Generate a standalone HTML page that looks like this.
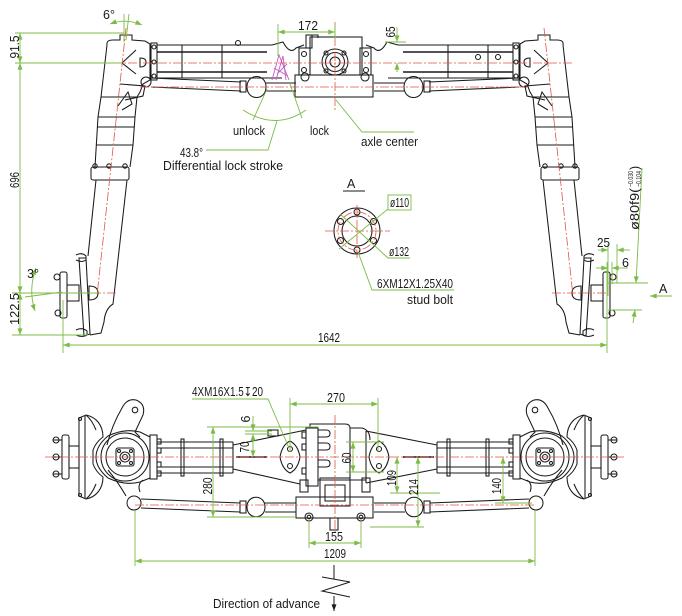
<!DOCTYPE html>
<html><head><meta charset="utf-8"><style>
html,body{margin:0;padding:0;background:#fff;}
svg{display:block;}
text{font-family:"Liberation Sans","DejaVu Sans",sans-serif;font-size:12.5px;fill:#1a1a1a;}
</style></head><body>
<svg width="682" height="616" viewBox="0 0 682 616" xmlns="http://www.w3.org/2000/svg">
<defs>
<marker id="ar" viewBox="0 0 8 6" refX="8" refY="3" markerWidth="7" markerHeight="5" markerUnits="userSpaceOnUse" orient="auto-start-reverse"><path d="M0,0 L8,3 L0,6 z" fill="#7cbb45"/></marker>
<marker id="ab" viewBox="0 0 8 6" refX="8" refY="3" markerWidth="7" markerHeight="5" markerUnits="userSpaceOnUse" orient="auto-start-reverse"><path d="M0,0 L8,3 L0,6 z" fill="#1a1a1a"/></marker>

<!-- TOP VIEW left half -->
<g id="TL" fill="none" stroke="#1a1a1a" stroke-width="1.05">
 <path d="M107,45 Q106,40 113,40 L120,40 L120,35 L132,35 L132,40 L145,41 L150,44"/>
 <path d="M107,45 L101,97 L98,117 L95,167"/>
 <path d="M150,44 L150,80 L143,84 L140,92 L137,97 L135,117 L133,145 L130,167"/>
 <rect x="151" y="43" width="6" height="37"/>
 <circle cx="154" cy="47" r="2"/><circle cx="154" cy="62" r="2"/><circle cx="154" cy="76" r="2"/>
 <path d="M136,50 L122,63 L136,74"/>
 <path d="M140,58 Q146,58 146,62 Q146,67 140,67 Z"/>
 <path d="M120,84 L145,86 L143,96 L125,100"/>
 <path d="M118,106 L128,92 L132,104 L122,110"/>
 <line x1="101" y1="97" x2="137" y2="97"/>
 <line x1="98" y1="117" x2="135" y2="117"/>
 <line x1="97" y1="127" x2="134" y2="127"/>
 <line x1="96" y1="145" x2="133" y2="145"/>
 <rect x="91" y="167" width="38" height="13" rx="2"/>
 <circle cx="95" cy="166" r="2.2"/><circle cx="109" cy="166" r="2.2"/><circle cx="125" cy="166" r="2.2"/>
 <path d="M96,180 L88,256"/>
 <path d="M127,180 L113,304 Q105,309 104,322 L101,333 L90,335"/>
 <path d="M79,258 L86,258 L90,334 L84,336 Z"/>
 <path d="M76,255 Q82,252 86,256 L86,260 Q82,263 76,260"/>
 <path d="M76,330 Q82,327 87,331 L87,335 Q82,338 76,335"/>
 <path d="M89,286 Q98,286 98,293 Q98,300 89,300 Z"/>
 <rect x="67" y="285" width="12" height="16"/>
 <rect x="60" y="272" width="7" height="46" rx="2"/>
 <circle cx="57" cy="277" r="3"/><circle cx="58" cy="313" r="3"/>
 <!-- tubes -->
 <line x1="157" y1="45" x2="272" y2="45"/>
 <line x1="157" y1="78" x2="282" y2="78"/>
 <line x1="157" y1="52" x2="267" y2="52" stroke-width="1.4"/>
 <line x1="157" y1="72" x2="267" y2="72" stroke-width="1.4"/>
 <line x1="182" y1="45" x2="182" y2="78"/>
 <line x1="222" y1="45" x2="222" y2="78"/>
 <path d="M272,45 L283,42 Q290,55 296,48 L304,45"/>
 <!-- tie rod -->
 <circle cx="146" cy="82" r="5"/>
 <path d="M151,78 L241,82"/>
 <path d="M151,87 L241,91"/>
 <rect x="240" y="81" width="6" height="11"/>
 <path d="M247,87 C247,73 266,73 266,87 C266,101 247,101 247,87 Z"/>
 <line x1="266" y1="83" x2="296" y2="83"/>
 <line x1="266" y1="91" x2="296" y2="91"/>
</g>

<!-- BOTTOM VIEW left half -->
<g id="BL" fill="none" stroke="#1a1a1a" stroke-width="1.05">
 <line x1="157" y1="442" x2="233" y2="442"/>
 <line x1="157" y1="473" x2="233" y2="473"/>
 <line x1="157" y1="448" x2="233" y2="448"/>
 <line x1="157" y1="467" x2="233" y2="467"/>
 <line x1="233" y1="442" x2="233" y2="473"/>
 <line x1="236" y1="457" x2="267" y2="457" stroke-width="1.4"/>
 <rect x="181" y="439" width="3" height="37"/>
 <rect x="220" y="439" width="3" height="37"/>
 <rect x="150" y="435" width="7" height="44"/>
 <rect x="157" y="439" width="4" height="5"/><rect x="157" y="448" width="4" height="5"/>
 <rect x="157" y="462" width="4" height="5"/><rect x="157" y="471" width="4" height="5"/>
 <path d="M150,437 L140,432 Q125,428 108,436 Q96,446 96,457 Q96,468 108,478 Q125,486 140,482 L150,478"/>
 <circle cx="125" cy="457" r="24"/>
 <circle cx="125" cy="457" r="19"/>
 <rect x="116" y="448" width="18" height="18" rx="2"/>
 <circle cx="119" cy="451" r="1.5"/><circle cx="131" cy="451" r="1.5"/>
 <circle cx="119" cy="463" r="1.5"/><circle cx="131" cy="463" r="1.5"/>
 <circle cx="125" cy="457" r="5"/><circle cx="125" cy="457" r="2.5"/>
 <path d="M107,445 Q112,425 122,408 Q127,398 136,400 Q146,404 143,415 L135,432 L140,437"/>
 <circle cx="135" cy="410" r="2.8"/>
 <path d="M108,470 Q118,482 126,496"/>
 <path d="M140,492 Q137,484 143,480"/>
 <circle cx="134" cy="503" r="7"/>
 <path d="M79,418 L86,415 C96,417 103,425 103,437 Q96,442 93,450 L93,464 Q96,472 103,477 C103,489 96,497 86,499 L79,496 Z"/>
 <line x1="85" y1="416" x2="85" y2="498"/>
 <path d="M86,415 Q92,420 96,430"/>
 <path d="M86,499 Q92,494 96,484"/>
 <circle cx="80" cy="419" r="1.5"/><circle cx="80" cy="495" r="1.5"/>
 <rect x="69" y="446" width="10" height="22"/>
 <rect x="62" y="435" width="7" height="44" rx="2"/>
 <line x1="53" y1="440" x2="62" y2="440"/><line x1="53" y1="457" x2="62" y2="457"/><line x1="53" y1="474" x2="62" y2="474"/>
 <circle cx="56" cy="440" r="3"/><circle cx="56" cy="457" r="3"/><circle cx="56" cy="474" r="3"/>
 <path d="M141,499 L240,503"/>
 <path d="M141,508 L240,512"/>
 <rect x="240" y="501" width="6" height="12"/>
 <path d="M247,507 C247,494 265,494 265,507 C265,520 247,520 247,507 Z"/>
 <line x1="265" y1="503" x2="296" y2="503"/>
 <line x1="265" y1="512" x2="296" y2="512"/>
</g>
</defs>

<rect width="682" height="616" fill="#fff"/>

<use href="#TL"/>
<use href="#TL" transform="translate(670,0) scale(-1,1)"/>
<use href="#BL"/>
<use href="#BL" transform="translate(670,0) scale(-1,1)"/>

<!-- TOP center gearbox -->
<g fill="none" stroke="#1a1a1a" stroke-width="1.05">
 <rect x="295" y="75" width="78" height="22"/>
 <circle cx="305" cy="77" r="4"/><circle cx="365" cy="77" r="4"/>
 <rect x="299" y="48" width="11" height="27"/>
 <circle cx="304" cy="54" r="2.5"/><circle cx="304" cy="70" r="2.5"/>
 <rect x="306" y="35" width="6" height="13"/>
 <path d="M306,35 L318,35 L318,38"/>
 <rect x="310" y="37" width="52" height="38"/>
 <rect x="360" y="48" width="11" height="27"/>
 <circle cx="366" cy="54" r="2.5"/><circle cx="366" cy="70" r="2.5"/>
 <circle cx="335" cy="62" r="13"/>
 <circle cx="335" cy="62" r="9.5"/>
 <circle cx="335" cy="62" r="5"/>
 <circle cx="326" cy="53" r="2"/><circle cx="344" cy="53" r="2"/><circle cx="326" cy="71" r="2"/><circle cx="344" cy="71" r="2"/>
 <circle cx="238" cy="43" r="2.5"/>
 <circle cx="478" cy="57" r="2.5"/><circle cx="498" cy="57" r="2.5"/>
</g>
<g fill="none" stroke="#c25bc2" stroke-width="0.9">
 <polyline points="272,80 279,55 289,80"/>
 <polyline points="276,80 283,56 286,80"/>
 <line x1="274" y1="68" x2="288" y2="76"/>
 <line x1="277" y1="74" x2="287" y2="64"/>
</g>

<!-- BOTTOM center gearbox -->
<g fill="none" stroke="#1a1a1a" stroke-width="1.05">
 <path d="M233,445 L306,430"/><path d="M233,469 L300,484"/>
 <path d="M366,431 L437,445"/><path d="M366,483 L437,469"/>
 <rect x="268" y="430" width="10" height="6"/>
 <rect x="306" y="428" width="12" height="58"/>
 <rect x="302" y="432" width="4" height="6"/><rect x="302" y="444" width="4" height="6"/><rect x="302" y="468" width="4" height="6"/>
 <path d="M310,428 L310,424 L345,424 Q350,424 350,428 L362,428 Q370,430 370,440"/>
 <line x1="350" y1="428" x2="350" y2="480"/>
 <line x1="366" y1="431" x2="366" y2="483"/>
 <path d="M318,430 L326,430 Q330,430 330,433.5 Q330,437 326,437 L318,437"/>
 <path d="M318,443 L326,443 Q330,443 330,446.5 Q330,450 326,450 L318,450"/>
 <path d="M318,460 L326,460 Q330,460 330,463.5 Q330,467 326,467 L318,467"/>
 <line x1="318" y1="480" x2="366" y2="480"/>
 <rect x="320" y="478" width="30" height="28"/>
 <rect x="325" y="485" width="20" height="16"/>
 <rect x="296" y="497" width="77" height="21"/>
 <rect x="330" y="518" width="8" height="12"/>
 <circle cx="309" cy="517" r="4"/><circle cx="309" cy="517" r="1.8"/>
 <circle cx="361" cy="517" r="4"/><circle cx="361" cy="517" r="1.8"/>
 <rect x="300" y="480" width="8" height="12"/>
 <rect x="362" y="478" width="8" height="14"/>
 <path d="M280,457 Q282,445 290,441 Q298,445 300,457 Q298,469 290,473 Q282,469 280,457 Z"/>
 <circle cx="290" cy="449" r="2.5"/><circle cx="290" cy="466" r="2.5"/>
 <path d="M369,457 Q371,445 379,441 Q387,445 389,457 Q387,469 379,473 Q371,469 369,457 Z"/>
 <circle cx="379" cy="449" r="2.5"/><circle cx="379" cy="466" r="2.5"/>
</g>

<!-- A view flange -->
<g fill="none" stroke="#1a1a1a" stroke-width="1.05">
 <circle cx="357" cy="231" r="23"/>
 <circle cx="357" cy="231" r="15"/>
 <circle cx="357" cy="212" r="3"/><circle cx="373.5" cy="221.5" r="3"/><circle cx="373.5" cy="240.5" r="3"/>
 <circle cx="357" cy="250" r="3"/><circle cx="340.5" cy="240.5" r="3"/><circle cx="340.5" cy="221.5" r="3"/>
</g>

<!-- red centre lines -->
<g fill="none" stroke="#e4553f" stroke-width="0.8" stroke-dasharray="9,2,2,2">
 <line x1="98" y1="63" x2="572" y2="63"/>
 <line x1="140" y1="87" x2="530" y2="87"/>
 <line x1="335" y1="22" x2="335" y2="112"/>
 <line x1="126" y1="28" x2="97" y2="296"/>
 <line x1="544" y1="28" x2="573" y2="296"/>
 <line x1="62" y1="293" x2="118" y2="293"/>
 <line x1="552" y1="293" x2="608" y2="293"/>
 <line x1="45" y1="457" x2="625" y2="457"/>
 <line x1="135" y1="505" x2="535" y2="505"/>
 <line x1="335" y1="415" x2="335" y2="532"/>
 <line x1="325" y1="231" x2="390" y2="231"/>
 <line x1="357" y1="205" x2="357" y2="258"/>
 <circle cx="357" cy="231" r="19"/>
</g>

<!-- green dimensions -->
<g fill="none" stroke="#7cbb45" stroke-width="0.9">
 <line x1="15" y1="33" x2="124" y2="33"/>
 <line x1="15" y1="63" x2="122" y2="63"/>
 <line x1="12" y1="293" x2="98" y2="293"/>
 <line x1="12" y1="335" x2="88" y2="335"/>
 <line x1="20" y1="33" x2="20" y2="63" marker-start="url(#ar)" marker-end="url(#ar)"/>
 <line x1="20" y1="63" x2="20" y2="293" marker-start="url(#ar)" marker-end="url(#ar)"/>
 <line x1="20" y1="293" x2="20" y2="335" marker-start="url(#ar)" marker-end="url(#ar)"/>
 <line x1="124" y1="14" x2="124" y2="42"/>
 <line x1="129" y1="14" x2="126" y2="40"/>
 <path d="M110,24 Q126,18 142,25" marker-start="url(#ar)" marker-end="url(#ar)"/>
 <path d="M36,268 Q28,290 35,311" marker-start="url(#ar)" marker-end="url(#ar)"/>
 <line x1="25" y1="297" x2="62" y2="292"/>
 <line x1="63" y1="300" x2="63" y2="353"/>
 <line x1="607" y1="262" x2="607" y2="353"/>
 <line x1="63" y1="345" x2="607" y2="345" marker-start="url(#ar)" marker-end="url(#ar)"/>
 <line x1="278" y1="24" x2="278" y2="56"/>
 <line x1="335" y1="24" x2="335" y2="40"/>
 <line x1="278" y1="32" x2="335" y2="32" marker-start="url(#ar)" marker-end="url(#ar)"/>
 <line x1="385" y1="42" x2="406" y2="42"/>
 <line x1="397" y1="27" x2="397" y2="42" marker-end="url(#ar)"/>
 <line x1="397" y1="72" x2="397" y2="63" marker-end="url(#ar)"/>
 <path d="M243,110 Q276,131 306,110"/>
 <line x1="253" y1="120" x2="267" y2="89"/>
 <line x1="302" y1="118" x2="290" y2="84"/>
 <polyline points="277,121 268,150 206,150"/>
 <polyline points="336,100 362,132 414,132"/>
 <line x1="343" y1="191" x2="365" y2="191" stroke="#1a1a1a"/>
 <rect x="388" y="195" width="23" height="15"/>
 <line x1="388" y1="209" x2="339" y2="249"/>
 <polyline points="410,258 388,258 340,214"/>
 <polyline points="454,290 372,290 358,252"/>
 <line x1="598" y1="250" x2="608" y2="250" marker-end="url(#ar)"/>
 <line x1="630" y1="250" x2="617" y2="250" marker-end="url(#ar)"/>
 <line x1="608" y1="244" x2="608" y2="296"/>
 <line x1="617" y1="244" x2="617" y2="283"/>
 <line x1="596" y1="268" x2="608" y2="268" marker-end="url(#ar)"/>
 <line x1="628" y1="268" x2="612" y2="268" marker-end="url(#ar)"/>
 <line x1="612" y1="262" x2="612" y2="284"/>
 <line x1="608" y1="283" x2="648" y2="283"/>
 <line x1="608" y1="310" x2="642" y2="310"/>
 <line x1="642" y1="168" x2="636" y2="283" marker-end="url(#ar)"/>
 <line x1="633" y1="323" x2="635" y2="310" marker-end="url(#ar)"/>
 <line x1="672" y1="296" x2="650" y2="296" marker-end="url(#ar)"/>
 <polyline points="192,399 268,399 289,448"/>
 <line x1="290" y1="398" x2="290" y2="452"/>
 <line x1="378" y1="398" x2="378" y2="452"/>
 <line x1="290" y1="404" x2="378" y2="404" marker-start="url(#ar)" marker-end="url(#ar)"/>
 <line x1="245" y1="431" x2="272" y2="431"/>
 <line x1="245" y1="434" x2="272" y2="434"/>
 <line x1="253" y1="416" x2="253" y2="431" marker-end="url(#ar)"/>
 <line x1="253" y1="434" x2="253" y2="457" marker-start="url(#ar)" marker-end="url(#ar)"/>
 <line x1="207" y1="427" x2="318" y2="427"/>
 <line x1="207" y1="517" x2="296" y2="517"/>
 <line x1="213" y1="427" x2="213" y2="517" marker-start="url(#ar)" marker-end="url(#ar)"/>
 <line x1="346" y1="442" x2="384" y2="442"/>
 <line x1="346" y1="472" x2="384" y2="472"/>
 <line x1="353" y1="442" x2="353" y2="472" marker-start="url(#ar)" marker-end="url(#ar)"/>
 <line x1="390" y1="493" x2="440" y2="493"/>
 <line x1="397" y1="457" x2="397" y2="493" marker-start="url(#ar)" marker-end="url(#ar)"/>
 <line x1="370" y1="527" x2="424" y2="527"/>
 <line x1="418" y1="457" x2="418" y2="527" marker-start="url(#ar)" marker-end="url(#ar)"/>
 <line x1="495" y1="503" x2="532" y2="503"/>
 <line x1="503" y1="457" x2="503" y2="503" marker-start="url(#ar)" marker-end="url(#ar)"/>
 <line x1="309" y1="521" x2="309" y2="548"/>
 <line x1="361" y1="521" x2="361" y2="548"/>
 <line x1="309" y1="543" x2="361" y2="543" marker-start="url(#ar)" marker-end="url(#ar)"/>
 <line x1="135" y1="510" x2="135" y2="566"/>
 <line x1="535" y1="510" x2="535" y2="566"/>
 <line x1="135" y1="561" x2="535" y2="561" marker-start="url(#ar)" marker-end="url(#ar)"/>
</g>

<g fill="none" stroke="#1a1a1a" stroke-width="1">
 <line x1="334" y1="565" x2="334" y2="579"/>
 <polyline points="322,577 350,582 322,591 350,597"/>
 <line x1="334" y1="596" x2="334" y2="611" marker-end="url(#ab)"/>
</g>

<!-- texts -->
<text x="103" y="19">6°</text>
<text x="298" y="30" textLength="20" lengthAdjust="spacingAndGlyphs">172</text>
<text transform="translate(19,47) rotate(-90)" text-anchor="middle" textLength="23" lengthAdjust="spacingAndGlyphs">91.5</text>
<text transform="translate(19,180) rotate(-90)" text-anchor="middle" textLength="16" lengthAdjust="spacingAndGlyphs">696</text>
<text transform="translate(19,309) rotate(-90)" text-anchor="middle" textLength="32" lengthAdjust="spacingAndGlyphs">122.5</text>
<text x="27" y="278">3°</text>
<text x="318" y="342" textLength="22" lengthAdjust="spacingAndGlyphs">1642</text>
<text transform="translate(395,32) rotate(-90)" text-anchor="middle" textLength="11" lengthAdjust="spacingAndGlyphs">65</text>
<text x="233" y="135" textLength="32" lengthAdjust="spacingAndGlyphs">unlock</text>
<text x="310" y="135" textLength="19" lengthAdjust="spacingAndGlyphs">lock</text>
<text x="180" y="157" textLength="23" lengthAdjust="spacingAndGlyphs">43.8°</text>
<text x="163" y="170" textLength="120" lengthAdjust="spacingAndGlyphs">Differential lock stroke</text>
<text x="361" y="146" textLength="57" lengthAdjust="spacingAndGlyphs">axle center</text>
<text x="347" y="188">A</text>
<text x="390" y="207" textLength="19" lengthAdjust="spacingAndGlyphs">ø110</text>
<text x="389" y="256" textLength="20" lengthAdjust="spacingAndGlyphs">ø132</text>
<text x="377" y="288" textLength="76" lengthAdjust="spacingAndGlyphs">6XM12X1.25X40</text>
<text x="407" y="304" textLength="46" lengthAdjust="spacingAndGlyphs">stud bolt</text>
<g transform="translate(639,230) rotate(-90)">
 <text x="0" y="0" textLength="42" lengthAdjust="spacingAndGlyphs">ø80f9(</text>
 <text x="43" y="-6" style="font-size:7px" textLength="16" lengthAdjust="spacingAndGlyphs">−0.030</text>
 <text x="43" y="2" style="font-size:7px" textLength="16" lengthAdjust="spacingAndGlyphs">−0.104</text>
 <text x="60" y="0">)</text>
</g>
<text x="597" y="247" textLength="13" lengthAdjust="spacingAndGlyphs">25</text>
<text x="622" y="267">6</text>
<text x="659" y="293">A</text>
<text x="192" y="396" textLength="71" lengthAdjust="spacingAndGlyphs">4XM16X1.5↧20</text>
<text x="327" y="402" textLength="18" lengthAdjust="spacingAndGlyphs">270</text>
<text transform="translate(250,419) rotate(-90)" text-anchor="middle">6</text>
<text transform="translate(249,447) rotate(-90)" text-anchor="middle" textLength="11" lengthAdjust="spacingAndGlyphs">70</text>
<text transform="translate(212,486) rotate(-90)" text-anchor="middle" textLength="17" lengthAdjust="spacingAndGlyphs">280</text>
<text transform="translate(351,458) rotate(-90)" text-anchor="middle" textLength="11" lengthAdjust="spacingAndGlyphs">60</text>
<text transform="translate(396,478) rotate(-90)" text-anchor="middle" textLength="16" lengthAdjust="spacingAndGlyphs">109</text>
<text transform="translate(418,487) rotate(-90)" text-anchor="middle" textLength="16" lengthAdjust="spacingAndGlyphs">214</text>
<text transform="translate(501,486) rotate(-90)" text-anchor="middle" textLength="16" lengthAdjust="spacingAndGlyphs">140</text>
<text x="325" y="541" textLength="18" lengthAdjust="spacingAndGlyphs">155</text>
<text x="324" y="558" textLength="22" lengthAdjust="spacingAndGlyphs">1209</text>
<text x="213" y="608" textLength="107" lengthAdjust="spacingAndGlyphs">Direction of advance</text>
</svg>
</body></html>
